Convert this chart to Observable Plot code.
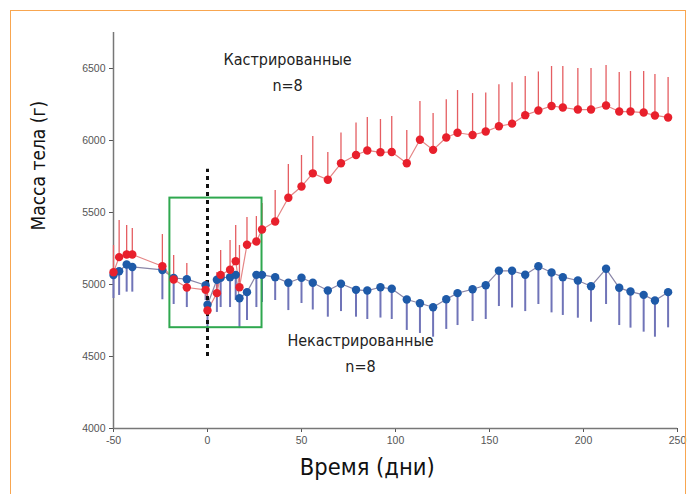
<!DOCTYPE html>
<html>
<head>
<meta charset="utf-8">
<script src="https://cdn.jsdelivr.net/npm/d3@7"></script>
<script src="https://cdn.jsdelivr.net/npm/@observablehq/plot@0.6"></script>
<style>
  html, body { margin: 0; padding: 0; background: #fff; }
  #wrap { position: relative; width: 688px; height: 494px; overflow: hidden; }
  #frame { position: absolute; left: 10px; top: 10px; width: 676px; height: 500px; border: 1.5px solid #f8a650; box-sizing: border-box; pointer-events: none; }
  #chart { position: absolute; left: 0; top: 0; }
</style>
</head>
<body>
<div id="wrap"><div id="chart"></div><div id="frame"></div></div>
<script>
// Days of measurement (x)
const days = [-50,-47,-43,-40,-24,-18,-11,-1,0,5,7,12,15,17,21,26,29,36,43,50,56,64,71,79,85,92,98,106,113,120,127,133,141,148,155,162,169,176,183,189,197,204,212,219,225,232,238,245];
// Castrated group: mean and upper error bound
const castrated = [5085,5190,5208,5208,5127,5035,4979,4963,4819,4940,5067,5102,5162,4981,5276,5299,5382,5437,5602,5681,5772,5727,5842,5899,5931,5918,5920,5842,6005,5935,6021,6054,6038,6062,6099,6117,6176,6208,6240,6229,6215,6215,6243,6201,6201,6194,6174,6160];
const castratedUpper = [5271,5444,5410,5389,5347,5201,5146,5028,4944,5083,5236,5306,5410,5271,5465,5472,5562,5653,5833,5896,6028,5917,6052,6121,6160,6146,6167,6069,6271,6187,6283,6347,6326,6330,6387,6401,6444,6476,6514,6514,6500,6500,6521,6472,6479,6479,6458,6437];
// Non-castrated group: mean and lower error bound
const intact = [5066,5092,5139,5122,5101,5045,5037,4995,4859,5033,5047,5051,5067,4905,4947,5067,5067,5051,5012,5047,5012,4958,5005,4963,4958,4981,4970,4896,4870,4842,4898,4940,4967,4995,5095,5095,5068,5127,5083,5051,5028,4988,5109,4977,4951,4928,4889,4947];
const intactLower = [4903,4924,4947,4947,4894,4861,4840,4889,4701,4806,4840,4840,4889,4694,4750,4840,4875,4889,4819,4868,4823,4773,4812,4773,4757,4767,4757,4681,4660,4634,4688,4715,4743,4757,4847,4837,4812,4861,4803,4785,4766,4738,4861,4715,4697,4669,4634,4699];

const xTicks = [-50, 0, 50, 100, 150, 200, 250];
const yTicks = [4000, 4500, 5000, 5500, 6000, 6500];
const xLabel = "Время (дни)";
const yLabel = "Масса тела (г)";
const groupLabels = [
  {day: 42.6, value: 6490, text: "Кастрированные\nn=8"},
  {day: 81.4, value: 4538, text: "Некастрированные\nn=8"}
];
const windowBox = [{x1: -20, x2: 29, y1: 4700, y2: 5600}];
const castrationDay = [{day: 0, y1: 4500, y2: 5800}];

const red = days.map((d, i) => ({day: d, value: castrated[i], bound: castratedUpper[i]}));
const blue = days.map((d, i) => ({day: d, value: intact[i], bound: intactLower[i]}));

const narrow = "'DejaVu Sans Condensed', 'Liberation Sans Narrow', sans-serif";

const chart = Plot.plot({
  width: 688,
  height: 494,
  marginLeft: 113,
  marginRight: 11,
  marginTop: 32,
  marginBottom: 66,
  style: {background: "transparent", fontFamily: "'Liberation Sans', Arial, sans-serif"},
  x: {domain: [-50, 250]},
  y: {domain: [4000, 6750]},
  marks: [
    Plot.axisX({ticks: xTicks, tickSize: 4, tickPadding: 4, fontSize: 10.5, color: "#555", label: null, tickFormat: d => String(d)}),
    Plot.axisY({ticks: yTicks, tickSize: 4, tickPadding: 4, fontSize: 10.5, color: "#555", label: null, tickFormat: d => String(d)}),
    Plot.ruleX([-50], {stroke: "#777", strokeWidth: 1.5}),
    Plot.ruleY([4000], {stroke: "#777", strokeWidth: 1.5}),
    Plot.ruleX(blue, {x: "day", y1: "value", y2: "bound", stroke: "#7074b8", strokeWidth: 2}),
    Plot.ruleX(red, {x: "day", y1: "value", y2: "bound", stroke: "#e55e62", strokeWidth: 1.3}),
    Plot.line(blue, {x: "day", y: "value", stroke: "#8a86a8", strokeWidth: 1.2}),
    Plot.line(red, {x: "day", y: "value", stroke: "#e58585", strokeWidth: 1.2}),
    Plot.rect(windowBox, {x1: "x1", x2: "x2", y1: "y1", y2: "y2", fill: "none", stroke: "#2fa84f", strokeWidth: 2}),
    Plot.ruleX(castrationDay, {x: "day", y1: "y1", y2: "y2", stroke: "#111", strokeWidth: 3, strokeDasharray: "4,4"}),
    Plot.dot(blue, {x: "day", y: "value", r: 4.2, fill: "#1e5aa8"}),
    Plot.dot(red, {x: "day", y: "value", r: 4.2, fill: "#e8202c"}),
    Plot.text(groupLabels, {x: "day", y: "value", text: "text", fontSize: 16, lineHeight: 1.62, fill: "#222", fontFamily: narrow}),
    Plot.text([xLabel], {x: () => 85, frameAnchor: "bottom", dy: 46, text: d => d, fontSize: 23.5, fill: "#111", fontFamily: narrow}),
    Plot.text([yLabel], {frameAnchor: "left", dx: -75, rotate: -90, text: d => d, fontSize: 19, fill: "#111", fontFamily: narrow})
  ]
});
document.getElementById("chart").appendChild(chart);
</script>
</body>
</html>
